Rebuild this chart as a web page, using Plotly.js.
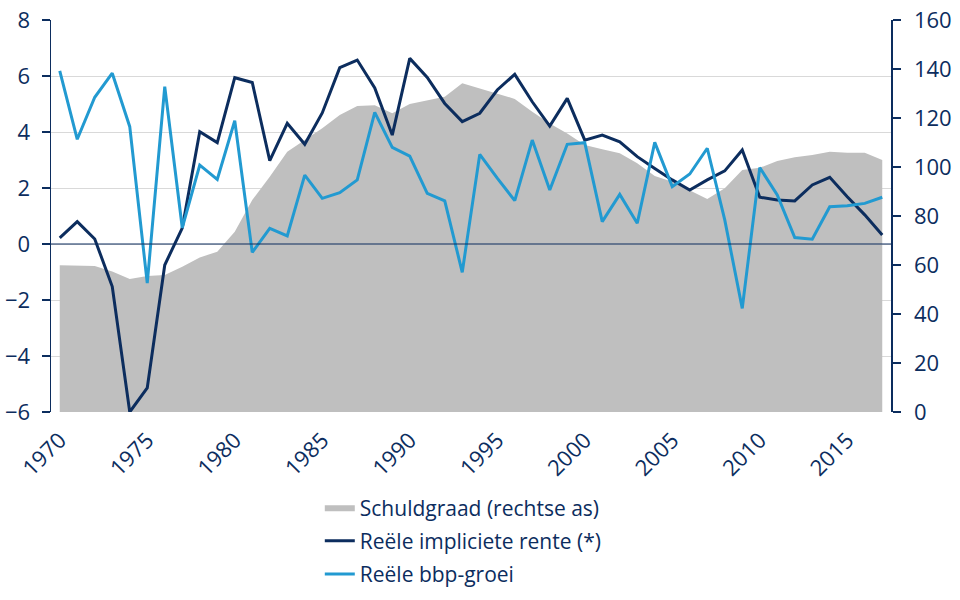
<!DOCTYPE html>
<html>
<head>
<meta charset="utf-8">
<script src="https://cdn.plot.ly/plotly-3.0.1.min.js"></script>
<style>html,body{margin:0;padding:0;background:#fff;}#chart{width:960px;height:600px;}</style>
</head>
<body>
<div id="chart"></div>
<script>
const years = [];
for (let y = 1970; y <= 2017; y++) years.push(y);

const schuldgraad = [59.9, 59.6, 59.6, 57.3, 54.3, 55.5, 55.9, 59.3, 63.1, 65.4,
  73.6, 86.5, 96.0, 106.2, 111.0, 115.8, 121.2, 124.9, 125.2, 121.9,
  125.7, 127.3, 128.7, 134.2, 132.1, 130.1, 127.8, 122.6, 117.8, 113.7,
  109.0, 107.2, 105.6, 101.5, 96.3, 94.0, 90.6, 86.9, 91.3, 98.8,
  99.7, 102.4, 104.0, 104.9, 106.2, 105.8, 105.8, 102.9];

const rente = [0.22, 0.80, 0.18, -1.52, -6.0, -5.14, -0.75, 0.57, 4.01, 3.62,
  5.94, 5.77, 2.98, 4.31, 3.56, 4.68, 6.30, 6.57, 5.57, 3.89,
  6.63, 5.95, 5.02, 4.37, 4.67, 5.50, 6.06, 5.08, 4.21, 5.20,
  3.71, 3.89, 3.65, 3.12, 2.70, 2.29, 1.93, 2.29, 2.61, 3.36,
  1.67, 1.57, 1.54, 2.11, 2.38, 1.69, 1.04, 0.32];

const groei = [6.18, 3.74, 5.24, 6.10, 4.19, -1.40, 5.62, 0.58, 2.82, 2.31,
  4.40, -0.30, 0.56, 0.29, 2.46, 1.63, 1.83, 2.29, 4.70, 3.45,
  3.14, 1.81, 1.54, -1.01, 3.20, 2.35, 1.55, 3.71, 1.93, 3.56,
  3.62, 0.80, 1.77, 0.74, 3.63, 2.05, 2.50, 3.42, 0.86, -2.30,
  2.73, 1.75, 0.23, 0.17, 1.33, 1.37, 1.45, 1.67];

const xTicks = [1970, 1975, 1980, 1985, 1990, 1995, 2000, 2005, 2010, 2015];
const leftTicks = [-6, -4, -2, 0, 2, 4, 6, 8];
const rightTicks = [0, 20, 40, 60, 80, 100, 120, 140, 160];

const names = ['Schuldgraad (rechtse as)', 'Reële impliciete rente (*)', 'Reële bbp-groei'];

const navy = '#0c2d5e';
const light = '#229ad1';
const grey = '#bfbfbf';
const font = '"Open Sans", "Noto Sans", sans-serif';

const data = [
  {x: years, y: schuldgraad, name: names[0], legendgroup: 'a', type: 'scatter', mode: 'lines',
   fill: 'tozeroy', fillcolor: grey, line: {width: 0, color: grey}, yaxis: 'y'},
  {x: years, y: rente, name: names[1], legendgroup: 'b', type: 'scatter', mode: 'lines',
   line: {color: navy, width: 3}, yaxis: 'y2'},
  {x: years, y: groei, name: names[2], legendgroup: 'c', type: 'scatter', mode: 'lines',
   line: {color: light, width: 3}, yaxis: 'y2'}
];

const layout = {
  width: 960, height: 600,
  margin: {l: 51, r: 69, t: 20, b: 188, autoexpand: false},
  paper_bgcolor: '#fff', plot_bgcolor: 'rgba(0,0,0,0)',
  font: {family: font, color: navy, size: 21},
  showlegend: true,
  legend: {x: 0.32, xanchor: 'left', yref: 'container', y: 0.188, yanchor: 'top', traceorder: 'grouped',
    font: {size: 21, color: navy}, tracegroupgap: 3, itemwidth: 30, bgcolor: 'rgba(0,0,0,0)'},
  xaxis: {type: 'linear', range: [1969.5, 2017.5], tickvals: xTicks, ticktext: xTicks.map(String),
    tickangle: -45, showgrid: false, zeroline: false, showline: false, ticks: '',
    ticklabelstandoff: 10, automargin: false,
    tickfont: {size: 22, color: navy, family: font}},
  yaxis: {range: [0, 160], tickvals: rightTicks, side: 'right', showgrid: false, zeroline: false,
    showline: true, linecolor: navy, linewidth: 1.5, ticks: 'outside', ticklen: 8, tickwidth: 1.5,
    tickcolor: navy, ticklabelstandoff: 9, automargin: false,
    tickfont: {size: 22, color: navy, family: font}},
  yaxis2: {range: [-6, 8], tickvals: leftTicks, side: 'left', overlaying: 'y', showgrid: true,
    gridcolor: '#d9d9d9', gridwidth: 1, zeroline: false, showline: true, linecolor: navy,
    linewidth: 1.5, ticks: 'outside', ticklen: 8, tickwidth: 1.5, tickcolor: navy,
    ticklabelstandoff: 7, automargin: false, tickfont: {size: 22, color: navy, family: font}},
  shapes: [{type: 'line', xref: 'paper', x0: 0, x1: 1, yref: 'y2', y0: 0, y1: 0,
    line: {color: navy, width: 1.2}, layer: 'above'}]
};

Plotly.newPlot('chart', data, layout, {displayModeBar: false, staticPlot: true});
</script>
</body>
</html>
